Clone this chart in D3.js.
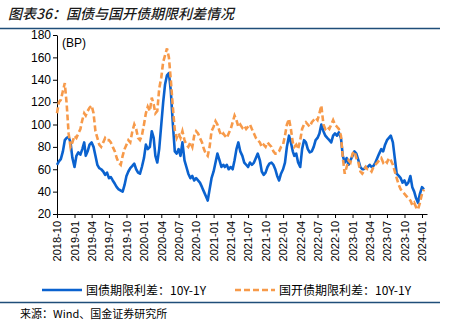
<!DOCTYPE html>
<html>
<head>
<meta charset="utf-8">
<script src="https://cdn.jsdelivr.net/npm/d3@7"></script>
<style>
  body { margin: 0; background: #fff; }
  svg { display: block; }
  text { font-family: "Liberation Sans", Arial, sans-serif; }
  .cjk { font-family: "Noto Sans CJK SC", sans-serif; }
</style>
</head>
<body>
<svg id="chart"></svg>
<script>
// three readings per month (1st, 11th, 21st), starting 2018-10
const startYear = 2018, startMonth = 9;

// 国债期限利差：10Y-1Y (BP)
const govSpread = [
  64, 67, 69,  76, 86, 88,  89, 84, 70,                                     // 2018-10..12
  62, 72, 75,  73, 78, 84,  72, 76, 82,  84, 80, 72,  64, 61, 60,  58, 55, 57,  // 2019-01..06
  52, 53, 50,  47, 44, 42,  41, 40, 46,  54, 58, 61,  63, 65, 60,  57, 56, 62,  // 2019-07..12
  70, 82, 78,  80, 94, 88,  72, 66, 78,  100, 120, 136,  144, 146, 130,  100, 76, 74, // 2020-01..06
  78, 72, 84,  68, 62, 56,  52, 54, 50,  52, 50, 48,  44, 40, 36,  32, 42, 52,  // 2020-07..12
  58, 66, 74,  68, 62, 64,  62, 64, 60,  62, 60, 68,  78, 84, 76,  72, 66, 64,  // 2021-01..06
  62, 66, 64,  66, 70, 74,  68, 58, 55,  57, 62, 65,  66, 64, 60,  54, 50, 56,  // 2021-07..12
  60, 66, 80,  90, 84, 76,  72, 74, 66,  62, 78, 86,  84, 78, 75,  76, 80, 86,  // 2022-01..06
  88, 92, 100,  94, 90, 88,  86, 84, 90,  92, 90, 93,  88, 72, 66,  70, 64, 68, // 2022-07..12
  72, 76, 74,  68, 62, 60,  60, 62, 62,  64, 62, 63,  66, 70, 74,  78, 76, 82,  // 2023-01..06
  86, 88, 90,  84, 70, 56,  54, 52, 48,  50, 46, 48,  54, 44, 40,  34, 30, 38,  // 2023-07..12
  44, 42                                                                    // 2024-01
];

// 国开债期限利差：10Y-1Y (BP)
const cdbSpread = [
  110, 120, 122,  130, 137, 118,  92, 80, 84,
  90, 88, 92,  96, 104, 110,  108, 112, 115,  117, 110, 94,  88, 82, 80,  84, 88, 86,
  86, 84, 80,  76, 70, 66,  64, 72, 78,  82, 86, 84,  94, 100, 96,  88, 86, 90,
  100, 110, 116,  112, 124, 118,  110, 112, 132,  142, 156, 162,  168, 160, 140,  115, 95, 88,
  92, 88, 94,  86, 82, 80,  84, 80, 90,  94, 92, 88,  84, 78, 74,  72, 80, 94,
  98, 103, 100,  94, 90, 92,  90, 88, 92,  96, 102, 108,  104, 98, 100,  97, 99, 96,
  98, 100, 96,  92, 88, 86,  84, 80, 82,  80, 84, 82,  80, 76, 74,  74, 76, 80,
  82, 90, 100,  105, 96, 84,  80, 82, 78,  86, 96, 100,  102, 100, 98,  102, 104, 106,
  104, 110, 117,  100, 96, 98,  96, 100, 104,  100, 98, 96,  90, 70, 56,  62, 68, 66,
  74, 76, 70,  66, 58, 56,  58, 62, 60,  60, 58, 62,  64, 66, 68,  70, 66, 68,
  66, 70, 68,  64, 58, 52,  46, 42, 40,  38, 36, 34,  32, 28, 30,  26, 24, 30,
  38, 42
];

const yTicks = [20, 40, 60, 80, 100, 120, 140, 160, 180];
const seriesNames = ["国债期限利差：10Y-1Y", "国开债期限利差：10Y-1Y"];
const colors = ["#0a62cf", "#f79a4a"];

const width = 450, height = 325;
const svg = d3.select("#chart").attr("width", width).attr("height", height);

const dateAt = i => new Date(startYear, startMonth + Math.floor(i / 3), 1 + 10 * (i % 3));

const x = d3.scaleTime()
  .domain([new Date(2018, 9, 1), new Date(2024, 0, 1)])
  .range([57, 422]);
x.domain([x.domain()[0], x.invert(427)]).range([57, 427]);

const y = d3.scaleLinear().domain([20, 180]).range([214, 35]);

// title and rules
svg.append("text")
  .attr("class", "cjk")
  .attr("x", 8).attr("y", 19)
  .style("font-size", "14px")
  .style("font-style", "italic")
  .style("font-weight", "500")
  .style("fill", "#1a1a1a")
  .text("图表36：国债与国开债期限利差情况");

svg.append("line").attr("x1", 0).attr("x2", 440).attr("y1", 28.5).attr("y2", 28.5)
  .style("stroke", "#1f4e79").style("stroke-width", 1.5);
svg.append("line").attr("x1", 0).attr("x2", 440).attr("y1", 302.5).attr("y2", 302.5)
  .style("stroke", "#1f4e79").style("stroke-width", 1.5);

// axes
const yAxis = svg.append("g")
  .attr("transform", "translate(57,0)")
  .call(d3.axisLeft(y).tickValues(yTicks).tickSize(4).tickSizeOuter(0));
yAxis.selectAll("text").style("font-size", "12px").style("fill", "#000").attr("x", -6);
yAxis.selectAll("line, path").style("stroke", "#000");

const xAxis = svg.append("g")
  .attr("transform", "translate(0,214)")
  .call(d3.axisBottom(x).ticks(d3.timeMonth.every(3)).tickFormat(d3.timeFormat("%Y-%m"))
    .tickSize(4).tickSizeOuter(0));
xAxis.selectAll("line, path").style("stroke", "#000");
xAxis.selectAll("text")
  .style("font-size", "11px").style("fill", "#000")
  .attr("text-anchor", "end")
  .attr("transform", "rotate(-90)")
  .attr("x", -7).attr("y", 0).attr("dy", "0.35em");

svg.append("text").attr("x", 62).attr("y", 47)
  .style("font-size", "12px").text("(BP)");

// lines
const line = d3.line()
  .x((d, i) => x(dateAt(i)))
  .y(d => y(d));

svg.append("path").datum(govSpread)
  .attr("d", line)
  .style("fill", "none")
  .style("stroke", colors[0])
  .style("stroke-width", 2.6)
  .style("stroke-linejoin", "round");

svg.append("path").datum(cdbSpread)
  .attr("d", line)
  .style("fill", "none")
  .style("stroke", colors[1])
  .style("stroke-width", 2.6)
  .style("stroke-dasharray", "6,3");

// legend
const legend = svg.append("g");
const legendX = [42, 235];
seriesNames.forEach((name, i) => {
  legend.append("line")
    .attr("x1", legendX[i]).attr("x2", legendX[i] + 40)
    .attr("y1", 290).attr("y2", 290)
    .style("stroke", colors[i]).style("stroke-width", 2.6)
    .style("stroke-dasharray", i === 1 ? "6,3" : null);
  legend.append("text")
    .attr("class", "cjk")
    .attr("x", legendX[i] + 44).attr("y", 294.5)
    .style("font-size", "12px").style("fill", "#000")
    .text(name);
});

svg.append("text")
  .attr("class", "cjk")
  .attr("x", 20).attr("y", 318)
  .style("font-size", "11px").style("fill", "#000")
  .text("来源：Wind、国金证券研究所");
</script>
</body>
</html>
